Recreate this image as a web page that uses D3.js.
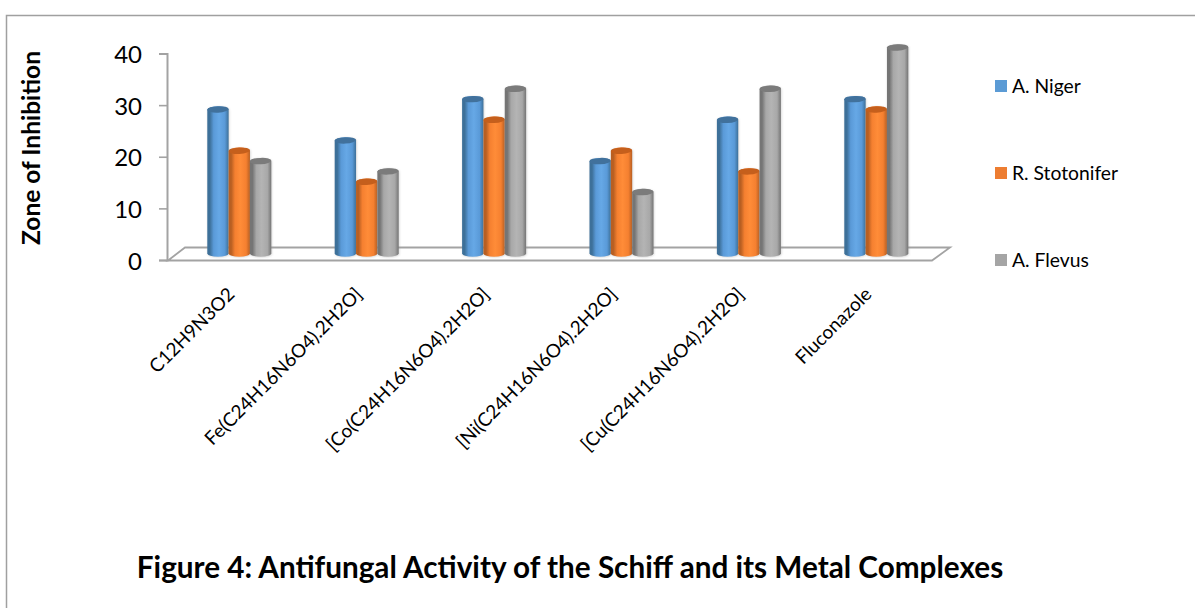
<!DOCTYPE html>
<html><head><meta charset="utf-8">
<script src="https://cdn.jsdelivr.net/npm/d3@7/dist/d3.min.js"></script>
<style>html,body{margin:0;padding:0;background:#fff}svg{display:block}text{font-family:Lato,"Open Sans",sans-serif;fill:#000}</style>
</head><body><script>
const categories = ["C12H9N3O2","Fe(C24H16N6O4).2H2O]","[Co(C24H16N6O4).2H2O]","[Ni(C24H16N6O4).2H2O]","[Cu(C24H16N6O4).2H2O]","Fluconazole"];
const seriesNames = ["A. Niger","R. Stotonifer","A. Flevus"];
const aNiger = [28,22,30,18,26,30];
const rStotonifer = [20,14,26,20,16,28];
const aFlevus = [18,16,32,12,32,40];
const yTicks = [0,10,20,30,40];
const seriesValues = [aNiger,rStotonifer,aFlevus];
const palette = [
 {swatch:"#5b9bd5",dark:"#3d7099",mid:"#5a9ad8",light:"#66a8e6",top:"#41719c"},
 {swatch:"#ed7d31",dark:"#b85f22",mid:"#f58030",light:"#ff8c38",top:"#c55f1c"},
 {swatch:"#a5a5a5",dark:"#757575",mid:"#a8a8a8",light:"#b4b4b4",top:"#7b7b7b"}
];
const W=1195,H=608;
const svg=d3.select("body").append("svg").attr("width",W).attr("height",H);
const defs=svg.append("defs");
const blur=defs.append("filter").attr("id","sh").attr("x","-30%").attr("y","-10%").attr("width","160%").attr("height","120%");
blur.append("feGaussianBlur").attr("stdDeviation",1.2);
palette.forEach((c,i)=>{
  const g=defs.append("linearGradient").attr("id","cyl"+i).attr("x1",0).attr("x2",1).attr("y1",0).attr("y2",0);
  [[0,c.dark],[.12,c.dark],[.3,c.mid],[.55,c.light],[.82,c.mid],[1,c.dark]].forEach(s=>g.append("stop").attr("offset",s[0]).attr("stop-color",s[1]));
});
// frame: top and left edges only
svg.append("path").attr("d",`M6.5,${H}V15.5H${W}`).attr("fill","none").attr("stroke","#a0a0a0").attr("stroke-width",1.5);

const x=d3.scaleBand().domain(categories).range([175.6,940]).paddingInner(0).paddingOuter(0);
const xs=d3.scaleBand().domain(d3.range(3)).range([0,64]).padding(0);
const groupOffset=(x.bandwidth()-64)/2;
const y=d3.scaleLinear().domain([0,40]).range([260,53.5]);
const yBar=v=>y(v)-6;
const axisColor="#a3a3a3";

// floor
const floor=svg.append("g").attr("fill","none").attr("stroke",axisColor).attr("stroke-width",1.8);
floor.append("path").attr("d",`M168,${y(0)+0.5}L185,247.5H950L932,${y(0)+0.5}Z`);

// y axis
const yAxis=svg.append("g").attr("transform","translate(167,0)").call(d3.axisLeft(y).tickValues(yTicks).tickSize(8).tickPadding(17));
yAxis.select(".domain").attr("stroke",axisColor).attr("stroke-width",2);
yAxis.selectAll(".tick line").attr("stroke",axisColor).attr("stroke-width",1.6);
yAxis.selectAll("text").attr("font-size",24).attr("font-family","Lato").attr("dy","0.38em").style("fill","#000");

// cylinders
const base=y(0)-6.5, ry=3.2;
categories.forEach((cat,ci)=>{
  const g=svg.append("g").attr("transform",`translate(${x(cat)+groupOffset},0)`);
  seriesValues.forEach((vals,si)=>{
    const v=vals[ci], l=xs(si), w=xs.bandwidth(), top=yBar(v), rx=w/2;
    const d=`M${l},${top}A${rx},${ry} 0 0 1 ${l+w},${top}V${base}A${rx},${ry} 0 0 1 ${l},${base}Z`;
    g.append("path").attr("d",d).attr("transform","translate(0.6,0.6)").attr("fill","#999").attr("opacity",.45).attr("filter","url(#sh)");
    g.append("path").attr("d",d).attr("fill",`url(#cyl${si})`);
    g.append("ellipse").attr("cx",l+rx).attr("cy",top).attr("rx",rx).attr("ry",ry)
      .attr("transform",`rotate(-3 ${l+rx} ${top})`).attr("fill",palette[si].top);
  });
});

// category labels
svg.append("g").selectAll("text").data(categories).join("text")
  .attr("transform",(d,i)=>`translate(${x(d)+x.bandwidth()/2-8},291) rotate(-45)`)
  .attr("text-anchor","end").attr("dy","0.34em").attr("font-size",18.9).text(d=>d);

// legend
const legendY=d3.scalePoint().domain(seriesNames).range([86,260]);
const lg=svg.append("g").selectAll("g").data(seriesNames).join("g").attr("transform",d=>`translate(995,${legendY(d)})`);
lg.append("rect").attr("x",0).attr("y",-6).attr("width",12).attr("height",12).attr("fill",(d,i)=>palette[i].swatch);
lg.append("text").attr("x",17).attr("dy","0.34em").attr("font-size",19.3).text(d=>d);

// titles
svg.append("text").attr("transform","translate(32,148) rotate(-90)").attr("text-anchor","middle").attr("dy","0.34em")
  .attr("font-size",24.5).attr("font-weight",700).text("Zone of Inhibition");
svg.append("text").attr("x",570).attr("y",578).attr("text-anchor","middle").attr("font-size",29.7).attr("font-weight",700)
  .text("Figure 4: Antifungal Activity of the Schiff and its Metal Complexes");
</script></body></html>
